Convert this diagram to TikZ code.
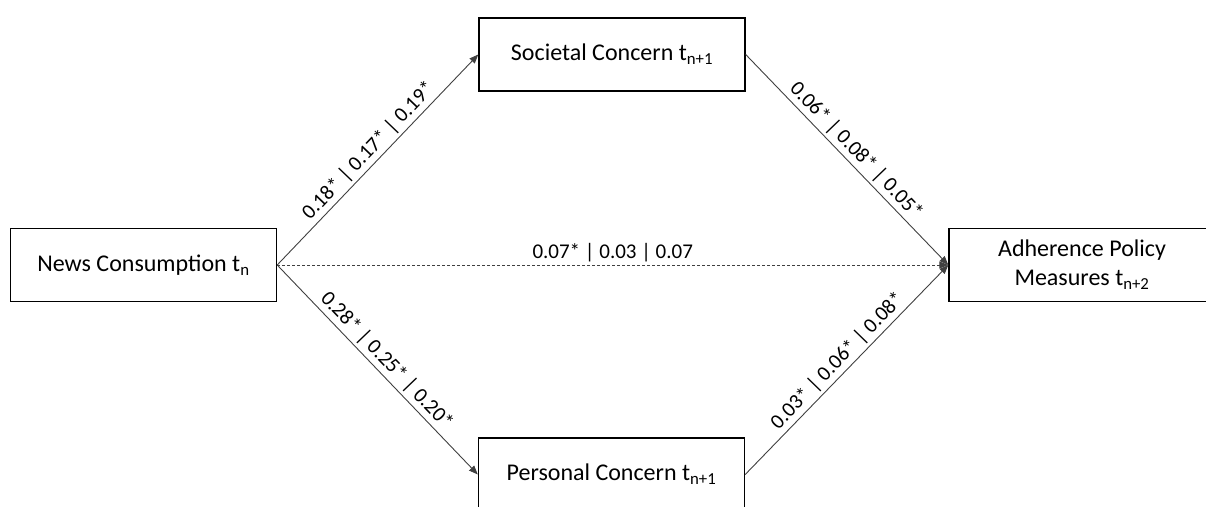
\documentclass[tikz,border=0pt]{standalone}
\usepackage{fontspec}
\setmainfont{Carlito}
\usetikzlibrary{arrows.meta}
\tikzset{
  box/.style={draw=black, line width=1.4pt, fill=white, minimum width=266pt, minimum height=73pt, inner sep=0pt, align=center, font=\fontsize{24}{29}\selectfont},
  conn/.style={draw=black!75, line width=0.9pt, -{Triangle[length=9pt,width=7pt]}},
  dashconn/.style={conn, dash pattern=on 3pt off 2pt},
  lbl/.style={font=\fontsize{21}{25}\selectfont, sloped, above, inner sep=3pt}
}
\begin{document}
\begin{tikzpicture}[x=1pt,y=-1pt]
\useasboundingbox (0,0) rectangle (1206,506);
\clip (0,0) rectangle (1206,506);
\node[box] (news) at (143.5,265) {News Consumption t\textsubscript{n}};
\node[box] (soc) at (612,54.5) {Societal Concern t\textsubscript{n+1}};
\node[box] (pers) at (611.5,474.5) {Personal Concern t\textsubscript{n+1}};
\node[box] (adh) at (1082,265) {Adherence Policy\\Measures t\textsubscript{n+2}};
\draw[conn] (news.east) -- node[lbl] {0.18* | 0.17* | 0.19*} (soc.west);
\draw[conn] (news.east) -- node[lbl] {0.28* | 0.25* | 0.20*} (pers.west);
\draw[conn] (soc.east) -- node[lbl] {0.06* | 0.08* | 0.05*} (adh.west);
\draw[conn] (pers.east) -- node[lbl] {0.03* | 0.06* | 0.08*} (adh.west);
\draw[dashconn] (news.east) -- node[lbl] {0.07* | 0.03 | 0.07} (adh.west);
\end{tikzpicture}
\end{document}
